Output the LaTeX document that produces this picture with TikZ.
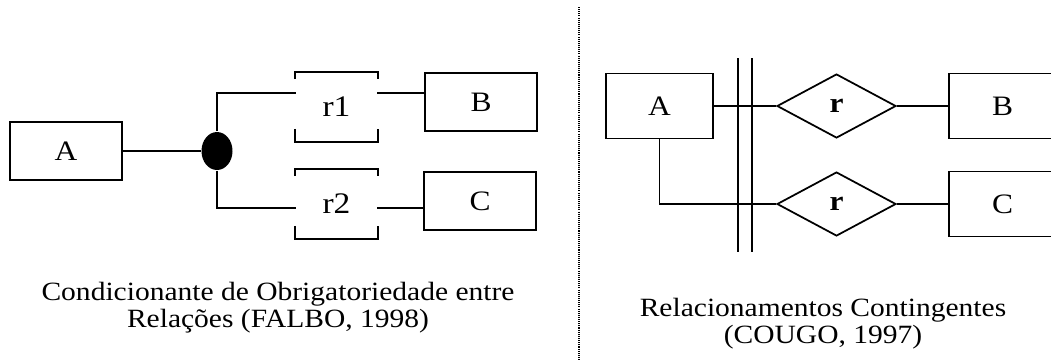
\documentclass[tikz,border=0pt]{standalone}
\usepackage{fontspec}
\setmainfont{Liberation Serif}[FakeStretch=1.12]
\usetikzlibrary{shapes.geometric}

\begin{document}
\begin{tikzpicture}[
    x=0.02cm, y=-0.02cm, line width=1pt,
    font=\fontsize{16pt}{18pt}\selectfont,
    entnode/.style={rectangle, draw, minimum width=2.24cm, minimum height=1.16cm, inner sep=0},
    widenode/.style={rectangle, draw, minimum width=2.14cm, minimum height=1.3cm, inner sep=0},
    relnode/.style={rectangle, minimum width=1.62cm, minimum height=1.36cm, inner sep=0, font=\fontsize{17pt}{18pt}\selectfont},
    diamnode/.style={diamond, draw, minimum width=2.38cm, minimum height=1.28cm, inner sep=0},
    dotnode/.style={ellipse, fill=black, minimum width=0.62cm, minimum height=0.76cm, inner sep=0},
    capnode/.style={align=center, inner sep=0, font=\fontsize{15pt}{15.4pt}\selectfont},
    ]
      \path[use as bounding box, clip] (0,0) rectangle (1051,360);

      %Nodes (Falbo)
      \node[entnode]  (A1)   at (66,151)    {A};
      \node[dotnode]  (dot)  at (217,151)   {};
      \node[relnode]  (r1)   at (336.5,107) {r1};
      \node[relnode]  (r2)   at (336.5,204) {r2};
      \node[entnode]  (B1)   at (481,102)   {B};
      \node[entnode]  (C1)   at (480,201)   {C};

      \coordinate (r1in)  at (296,93);
      \coordinate (r1out) at (377,93);
      \coordinate (r2in)  at (296,208);
      \coordinate (r2out) at (377,208);

      %Nodes (Cougo)
      \node[widenode] (A2)   at (659.5,106) {A};
      \node[diamnode] (rd1)  at (836.5,106) {\textbf{r}};
      \node[diamnode] (rd2)  at (836.5,204) {\textbf{r}};
      \node[widenode] (B2)   at (1002.5,106) {B};
      \node[widenode] (C2)   at (1002.5,204) {C};

      \coordinate (bar1top) at (738,58);
      \coordinate (bar1bot) at (738,252);
      \coordinate (bar2top) at (752,58);
      \coordinate (bar2bot) at (752,252);

      %Captions
      \node[capnode] (cap1) at (278,308) {Condicionante de Obrigatoriedade entre\\Relações (FALBO, 1998)};
      \node[capnode] (cap2) at (823,324) {Relacionamentos Contingentes\\(COUGO, 1997)};

      \coordinate (sepTop) at (579,7);
      \coordinate (sepBot) at (579,360);

      %Brackets
      \draw (r1.north west) ++(0,7) -- (r1.north west) -- (r1.north east) -- ++(0,7);
      \draw (r1.south west) ++(0,-13) -- (r1.south west) -- (r1.south east) -- ++(0,-13);
      \draw (r2.north west) ++(0,7) -- (r2.north west) -- (r2.north east) -- ++(0,7);
      \draw (r2.south west) ++(0,-13) -- (r2.south west) -- (r2.south east) -- ++(0,-13);

      %Lines
      \draw (A1.east)   -- (dot.west);
      \draw (dot.north) |- (r1in);
      \draw (r1out)     -- (r1out -| B1.west);
      \draw (dot.south) |- (r2in);
      \draw (r2out)     -- (r2out -| C1.west);

      \draw (bar1top) -- (bar1bot);
      \draw (bar2top) -- (bar2bot);
      \draw (A2.east)   -- (rd1.west);
      \draw (rd1.east)  -- (B2.west);
      \draw (A2.south)  |- (rd2.west);
      \draw (rd2.east)  -- (C2.west);

      \draw[line width=0.8pt, dash pattern=on 0.6pt off 0.6pt] (sepTop) -- (sepBot);
\end{tikzpicture}
\end{document}
